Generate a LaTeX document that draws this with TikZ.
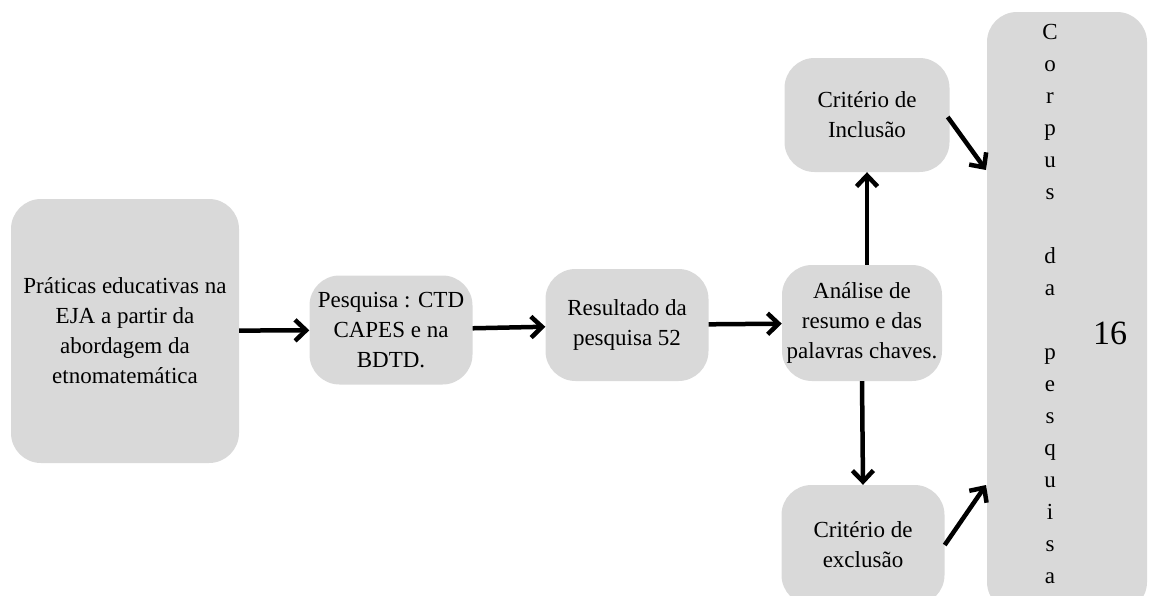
\documentclass[tikz,border=0pt]{standalone}
\usepackage{fontspec}
\setmainfont{Liberation Serif}
\usetikzlibrary{arrows.meta, positioning}
\definecolor{boxgray}{RGB}{217,217,217}

\begin{document}
\begin{tikzpicture}[
    x=1pt, y=-1pt,
    box/.style  = {fill=boxgray, rounded corners=30pt, inner sep=0pt,
                   minimum width=#1, align=center,
                   font=\fontsize{23}{30}\selectfont},
    arr/.style  = {-{Straight Barb[length=11pt, width=21pt]}, line width=4.5pt},
]
\useasboundingbox (0,0) rectangle (1150,595);

% Main flow (left to right)
\node[box=228pt, minimum height=264pt] (prat) at (125,331)
     {Práticas educativas na\\EJA a partir da\\abordagem da\\etnomatemática};
\node[box=163pt, minimum height=109pt] (pesq) at (391,330)
     {Pesquisa : CTD\\CAPES e na\\BDTD.};
\node[box=163pt, minimum height=112pt] (res)  at (627,325)
     {Resultado da\\pesquisa 52};
\node[box=160pt, minimum height=116pt] (ana)  at (862,323)
     {Análise de\\resumo e das\\palavras chaves.};

% Criteria
\node[box=165pt, minimum height=114pt] (inc) at (867,115)
     {Critério de\\Inclusão};
\node[box=163pt, minimum height=120pt] (exc) at (863,545)
     {Critério de\\exclusão};

% Corpus
\node[box=160pt, minimum height=600pt] (corpus) at (1067,312) {};
\node[align=center, inner sep=0pt, font=\fontsize{23}{32}\selectfont] (corpustxt) at (1050,304)
     {C\\o\\r\\p\\u\\s\\~\\d\\a\\~\\p\\e\\s\\q\\u\\i\\s\\a};
\node[inner sep=0pt, font=\fontsize{34}{40}\selectfont] (num) at (1110,333) {16};

\coordinate (cin)  at (986,170);
\coordinate (cexc) at (986,485);

\draw[arr] (prat) -- (pesq);
\draw[arr] (pesq) -- (res);
\draw[arr] (res)  -- (ana);
\draw[arr] (ana.north -| inc.south) -- (inc.south);
\draw[arr] (ana.south) -- (exc.north);
\draw[arr] (inc.east) ++(-2,2) -- (cin);
\draw[arr] (exc.east) -- (cexc);

\end{tikzpicture}
\end{document}
